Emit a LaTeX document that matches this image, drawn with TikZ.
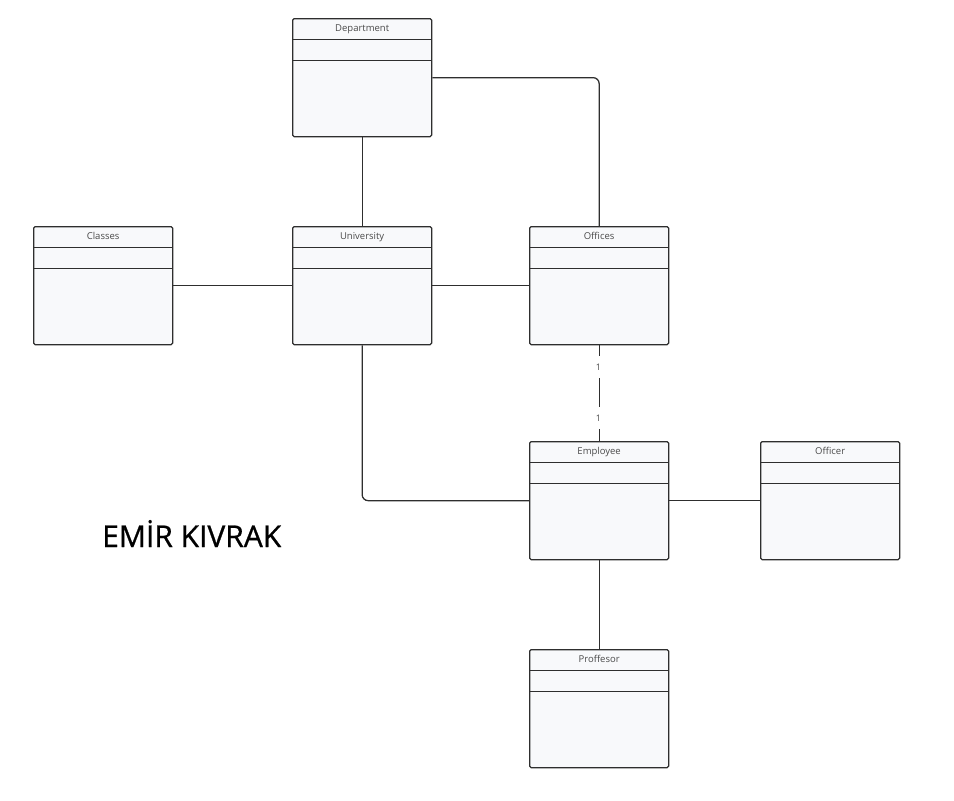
\documentclass[tikz,border=0pt]{standalone}
\usepackage{fontspec}
\setmainfont{Open Sans}
\newfontfamily\namefont[FakeBold=0.8]{Open Sans}
\definecolor{linec}{HTML}{2E2E2E}
\definecolor{boxfill}{HTML}{F8F9FB}
\definecolor{titlec}{HTML}{4A4A4A}
\tikzset{
  classbox/.style={draw=linec, fill=boxfill, line width=1.3pt,
    rounded corners=1.5pt, anchor=north west, inner sep=0pt,
    minimum width=139pt, minimum height=118pt,
    path picture={
      \draw[linec, line width=1.3pt]
        ([yshift=-20.5pt]path picture bounding box.north west) --
        ([yshift=-20.5pt]path picture bounding box.north east)
        ([yshift=-41.5pt]path picture bounding box.north west) --
        ([yshift=-41.5pt]path picture bounding box.north east);
    }},
  classname/.style={text=titlec, font=\fontsize{9.5}{11}\selectfont,
    anchor=center, inner sep=0pt, text height=7pt, text depth=2pt},
  conn/.style={draw=linec, line width=1.3pt},
  mult/.style={fill=white, text=titlec, font=\fontsize{9}{10}\selectfont,
    inner sep=1pt, minimum height=22pt}
}
\begin{document}
\begin{tikzpicture}[x=1pt,y=-1pt]
\useasboundingbox (0,0) rectangle (954,801);

% The class boxes
\node[classbox] (Dep) at (292,18) {};
\node[classbox] (Cls) at (33,226) {};
\node[classbox] (Uni) at (292,226) {};
\node[classbox] (Off) at (529,226) {};
\node[classbox] (Emp) at (529,441) {};
\node[classbox] (Ocr) at (760,441) {};
\node[classbox] (Prf) at (529,649) {};

% Their names in the top row
\node[classname] (DepT) at ([yshift=-10.5pt]Dep.north) {Department};
\node[classname] (ClsT) at ([yshift=-10.5pt]Cls.north) {Classes};
\node[classname] (UniT) at ([yshift=-10.5pt]Uni.north) {University};
\node[classname] (OffT) at ([yshift=-10.5pt]Off.north) {Offices};
\node[classname] (EmpT) at ([yshift=-10.5pt]Emp.north) {Employee};
\node[classname] (OcrT) at ([yshift=-10.5pt]Ocr.north) {Officer};
\node[classname] (PrfT) at ([yshift=-10.5pt]Prf.north) {Proffesor};

% Connectors between the classes
\draw[conn] (Dep.south) -- (Uni.north);
\draw[conn, rounded corners=6pt] (Dep.east) -| (Off.north);
\draw[conn] (Cls.east) -- (Uni.west);
\draw[conn] (Uni.east) -- (Off.west);
\draw[conn, rounded corners=6pt] (Uni.south) |- (Emp.west);
\draw[conn] (Emp.east) -- (Ocr.west);
\draw[conn] (Emp.south) -- (Prf.north);

% One to one between Offices and Employee
\draw[conn] (Off.south) -- (Emp.north);
\node[mult] (m1) at (598.5,367) {1};
\node[mult] (m2) at (598.5,418) {1};

% Author name
\node[anchor=base west, inner sep=0pt, font=\namefont\fontsize{30}{36}\selectfont]
  (Name) at (102,547) {EMİR KIVRAK};
\end{tikzpicture}
\end{document}
